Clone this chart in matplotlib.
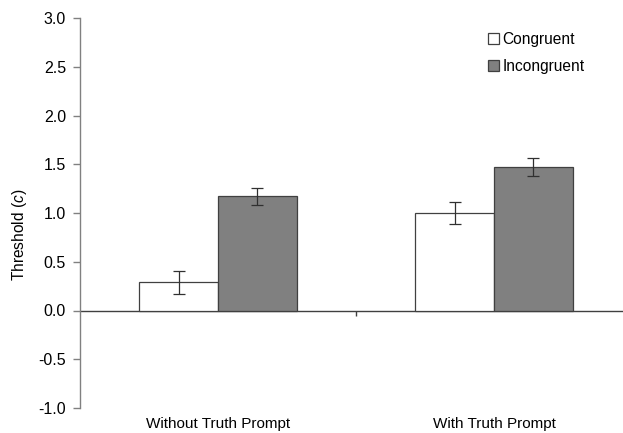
import matplotlib
matplotlib.use("Agg")
import matplotlib.pyplot as plt
from matplotlib.patches import Patch
import numpy as np

plt.rcParams['font.family'] = ['Liberation Sans', 'DejaVu Sans']
plt.rcParams['mathtext.fontset'] = 'custom'
plt.rcParams['mathtext.it'] = 'Liberation Sans:italic'
plt.rcParams['mathtext.rm'] = 'Liberation Sans'

categories = ["Without Truth Prompt", "With Truth Prompt"]
series_names = ["Congruent", "Incongruent"]
congruent = [0.29, 1.00]
congruent_err = [0.12, 0.11]
incongruent = [1.17, 1.47]
incongruent_err = [0.09, 0.09]
yticks = [-1.0, -0.5, 0.0, 0.5, 1.0, 1.5, 2.0, 2.5, 3.0]

W, H = 623, 433
fig = plt.figure(figsize=(W/100, H/100), dpi=100)
ax = fig.add_axes([80/W, 25/H, 552/W, 390/H])

x = np.arange(len(categories))
bw = 0.286
edge = '#404040'
ax.bar(x - bw/2, congruent, bw, color='white', edgecolor=edge, linewidth=0.9, zorder=2)
ax.bar(x + bw/2, incongruent, bw, color='#808080', edgecolor=edge, linewidth=0.9, zorder=2)
ax.errorbar(x - bw/2, congruent, yerr=congruent_err, fmt='none', ecolor='#303030',
            elinewidth=0.9, capsize=4, capthick=0.9, zorder=3)
ax.errorbar(x + bw/2, incongruent, yerr=incongruent_err, fmt='none', ecolor='#303030',
            elinewidth=0.9, capsize=4, capthick=0.9, zorder=3)

ax.axhline(0, color='#404040', lw=1.0, zorder=1)
mids = (x[:-1] + x[1:]) / 2
ax.vlines(mids, -0.06, 0, color='#404040', lw=1.0)

ax.set_xlim(-0.5, 1.5)
ax.set_ylim(-1.0, 3.0)
ax.set_yticks(yticks)
ax.set_yticklabels([f"{v:.1f}" for v in yticks], fontsize=11.5)
ax.set_xticks(x)
ax.set_xticklabels(categories, fontsize=11)
ax.tick_params(axis='x', length=0, pad=6.5)
ax.tick_params(axis='y', length=5, width=1, color='#808080', pad=5)
for s in ['top', 'right', 'bottom']:
    ax.spines[s].set_visible(False)
ax.spines['left'].set_color('#808080')
ax.spines['left'].set_linewidth(1)

ax.set_ylabel("Threshold ($c$)", fontsize=11.2)
ax.yaxis.set_label_coords(-51/552, (408 - 235) / 390)

handles = [Patch(facecolor='white', edgecolor=edge, linewidth=0.9),
           Patch(facecolor='#808080', edgecolor=edge, linewidth=0.9)]
ax.legend(handles, series_names, loc='upper left', bbox_to_anchor=(397/552, 1.0 - 3/390),
          frameon=False, fontsize=11.2, handlelength=0.7, handleheight=0.7,
          handletextpad=0.25, labelspacing=0.75, borderaxespad=0.3)

fig.savefig("out.png", dpi=100)
